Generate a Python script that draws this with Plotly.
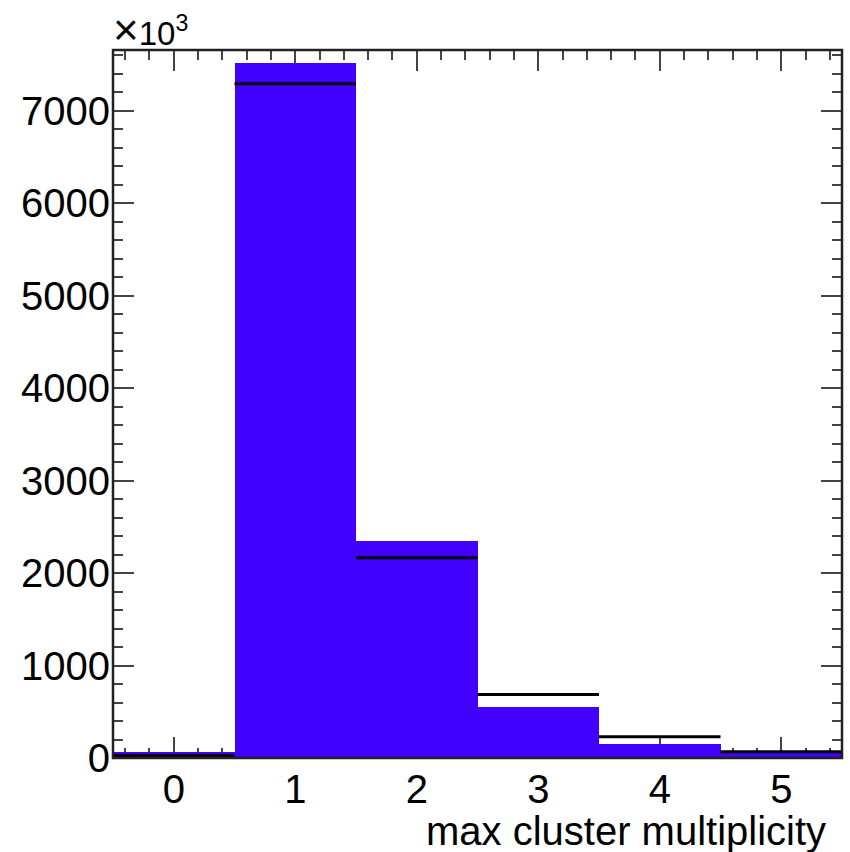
import plotly.graph_objects as go

# Data (bin centres 0..5, counts in units of 10^3)
bins = [0, 1, 2, 3, 4, 5]
filled_counts = [60, 7510, 2350, 546, 146, 50]      # blue filled histogram
line_counts = [27, 7290, 2165, 686, 230, 68]         # black horizontal-step histogram
y_max = 7654
x_title = "max cluster multiplicity"
exponent_label = "<span style='font-size:44px'>×</span>10<sup>3</sup>"

BLUE = "#4200ff"

fig = go.Figure()

fig.add_trace(go.Bar(
    x=bins, y=filled_counts, width=1.0,
    marker=dict(color=BLUE, line=dict(width=0)),
    showlegend=False, hoverinfo="skip",
))

# black per-bin horizontal segments (no vertical connectors)
seg_x, seg_y = [], []
for b, v in zip(bins, line_counts):
    seg_x += [b - 0.5, b + 0.5, None]
    seg_y += [v, v, None]
fig.add_trace(go.Scatter(
    x=seg_x, y=seg_y, mode="lines",
    line=dict(color="black", width=3),
    showlegend=False, hoverinfo="skip",
))

FONT = "Liberation Sans, Arial, Helvetica, sans-serif"

fig.update_layout(
    width=850, height=852,
    margin=dict(l=113, r=8, t=50, b=94),
    paper_bgcolor="white", plot_bgcolor="white",
    bargap=0,
    font=dict(family=FONT, size=40, color="black"),
    xaxis=dict(
        range=[-0.5, 5.5], tick0=0, dtick=1,
        ticks="inside", ticklen=21, tickwidth=2, tickcolor="#444",
        minor=dict(dtick=0.2, ticks="inside", ticklen=10, tickwidth=2, tickcolor="#444"),
        showgrid=False, zeroline=False, showline=False, mirror="allticks",
        tickfont=dict(size=40, family=FONT), layer="below traces",
        ticklabelstandoff=4,
    ),
    yaxis=dict(
        range=[0, y_max], tick0=0, dtick=1000,
        ticks="inside", ticklen=21, tickwidth=2, tickcolor="#444",
        minor=dict(dtick=200, ticks="inside", ticklen=10, tickwidth=2, tickcolor="#444"),
        showgrid=False, zeroline=False, showline=False, mirror="allticks",
        tickfont=dict(size=40, family=FONT), layer="below traces",
        ticklabelstandoff=2,
    ),
    shapes=[dict(type="rect", xref="paper", yref="paper", x0=0, y0=0, x1=1, y1=1,
                 line=dict(color="#222", width=2.5), layer="above")],
    annotations=[
        dict(text=x_title, xref="paper", yref="paper", x=0.981, y=-0.103,
             xanchor="right", yanchor="middle", showarrow=False,
             font=dict(size=40, family=FONT, color="black")),
        dict(text=exponent_label, xref="paper", yref="paper", x=-0.003, y=1.0,
             xanchor="left", yanchor="bottom", showarrow=False, yshift=-6,
             font=dict(size=33, family=FONT, color="black")),
    ],
)

fig.write_html("out.html")
